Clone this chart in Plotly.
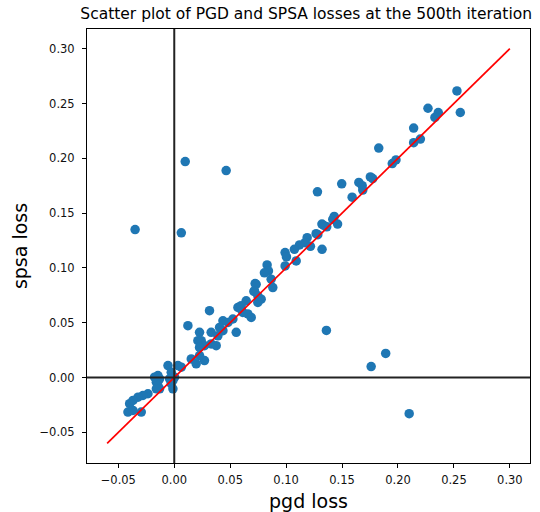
import plotly.graph_objects as go

pgd_loss = [
    0.2527, 0.2557, 0.2268, 0.236, 0.233, 0.214, 0.214, 0.220, 0.1828, 0.1949, 0.1982,
    0.1753, 0.1774, 0.165, 0.168, 0.1685, 0.159, 0.1497, 0.128, 0.143, 0.1417, 0.146,
    0.1363, 0.132, 0.1337, 0.1268, 0.1283, 0.1321, 0.1188, 0.117, 0.112, 0.1074, 0.1217,
    0.0991, 0.1003, 0.0991, 0.109, 0.083, 0.0842, 0.0806, 0.0866, 0.0881, 0.0723, 0.0712,
    0.0777, 0.0747, 0.0643, 0.0569, 0.0598, 0.0315, 0.0732, 0.0717, 0.0747, 0.0598,
    0.0613, 0.0658, 0.0688, 0.0524, 0.048, 0.0435, 0.0405, 0.0435, 0.0122, 0.033, 0.0226,
    0.0211, 0.0241, 0.0554, 0.033, 0.027, 0.0226, 0.039, 0.0375, 0.027, 0.0226, 0.0152,
    0.0196, 0.0063, 0.0033, -0.0056, -0.0027, 0.0003, -0.0012, -0.0027, -0.0012, -0.0042,
    -0.0146, -0.0176, -0.0131, -0.016, -0.0146, -0.0131, -0.016, -0.0235, -0.028, -0.0324,
    -0.0369, -0.0399, -0.0414, -0.0369, -0.0295,
    -0.035, 0.0098, 0.0464, 0.0063, 0.136, 0.176, 0.189, 0.210,
]
spsa_loss = [
    0.2615, 0.2418, 0.2457, 0.2418, 0.2373, 0.2276, 0.2143, 0.2176, 0.2094, 0.1952, 0.1985,
    0.183, 0.1815, 0.178, 0.175, 0.171, 0.1645, 0.1767, 0.1694, 0.147, 0.1443, 0.140,
    0.1375, 0.140, 0.1388, 0.1312, 0.1303, 0.117, 0.1276, 0.123, 0.121, 0.117, 0.1197,
    0.114, 0.110, 0.1018, 0.1064, 0.1027, 0.0973, 0.0955, 0.0897, 0.0821, 0.0857, 0.0785,
    0.0715, 0.0685, 0.070, 0.0639, 0.0625, 0.061, 0.085, 0.079, 0.0745, 0.0655,
    0.0594, 0.058, 0.0548, 0.0534, 0.0503, 0.0518, 0.0457, 0.0427, 0.0473, 0.0412, 0.0412,
    0.0336, 0.0336, 0.0412, 0.0306, 0.029, 0.0275, 0.038, 0.029, 0.0155, 0.020, 0.017,
    0.0125, 0.0094, 0.0109, 0.0109, 0.0048, 0.0003, -0.0027, -0.0057, -0.0103, -0.0012,
    0.0018, 0.0003, -0.0012, -0.0043, -0.0073, -0.0103, -0.0103, -0.0148, -0.0164, -0.0179,
    -0.0209, -0.0239, -0.0315, -0.030, -0.0315,
    0.135, 0.197, 0.1888, 0.132, 0.043, 0.010, 0.022, -0.033,
]
ref_line = [-0.06, 0.30]
tick_vals = [-0.05, 0.00, 0.05, 0.10, 0.15, 0.20, 0.25, 0.30]
tick_text = ["\u22120.05", "0.00", "0.05", "0.10", "0.15", "0.20", "0.25", "0.30"]

fig = go.Figure()
fig.add_trace(go.Scatter(
    x=pgd_loss, y=spsa_loss, mode="markers",
    marker=dict(color="#1f77b4", size=9.5, line=dict(width=0)),
    showlegend=False,
))
fig.add_trace(go.Scatter(
    x=ref_line, y=ref_line, mode="lines",
    line=dict(color="red", width=1.7), showlegend=False,
))
fig.add_hline(y=0, line=dict(color="#222222", width=2))
fig.add_vline(x=0, line=dict(color="#222222", width=2))

axis_common = dict(
    showgrid=False, zeroline=False, showline=True, mirror=True, automargin=False,
    linecolor="black", linewidth=1, ticks="outside", ticklen=4,
    tickcolor="black", tickfont=dict(family="DejaVu Sans", size=11.5, color="#111111"),
    tickvals=tick_vals, ticktext=tick_text,
)
fig.update_xaxes(range=[-0.078, 0.318], ticklabelstandoff=2,
                 title=dict(text="pgd loss", font=dict(family="DejaVu Sans", size=19, color="black")),
                 **axis_common)
fig.update_yaxes(range=[-0.078, 0.318], ticklabelstandoff=5, **axis_common)

fig.add_annotation(
    text="spsa loss", textangle=-90, showarrow=False,
    xref="paper", yref="paper", x=-0.151, y=0.5, xanchor="center", yanchor="middle",
    font=dict(family="DejaVu Sans", size=19, color="black"),
)

fig.update_layout(
    width=540, height=512,
    margin=dict(l=87, r=10, t=29, b=49),
    paper_bgcolor="white", plot_bgcolor="white",
    title=dict(text="Scatter plot of PGD and SPSA losses at the 500th iteration",
               font=dict(family="DejaVu Sans", size=15.5, color="black"),
               x=0.567, xanchor="center", yref="container", y=0.984, yanchor="top"),
)
fig.write_html("out.html", config={"displayModeBar": False},
               post_script="document.body.style.margin='0';")
